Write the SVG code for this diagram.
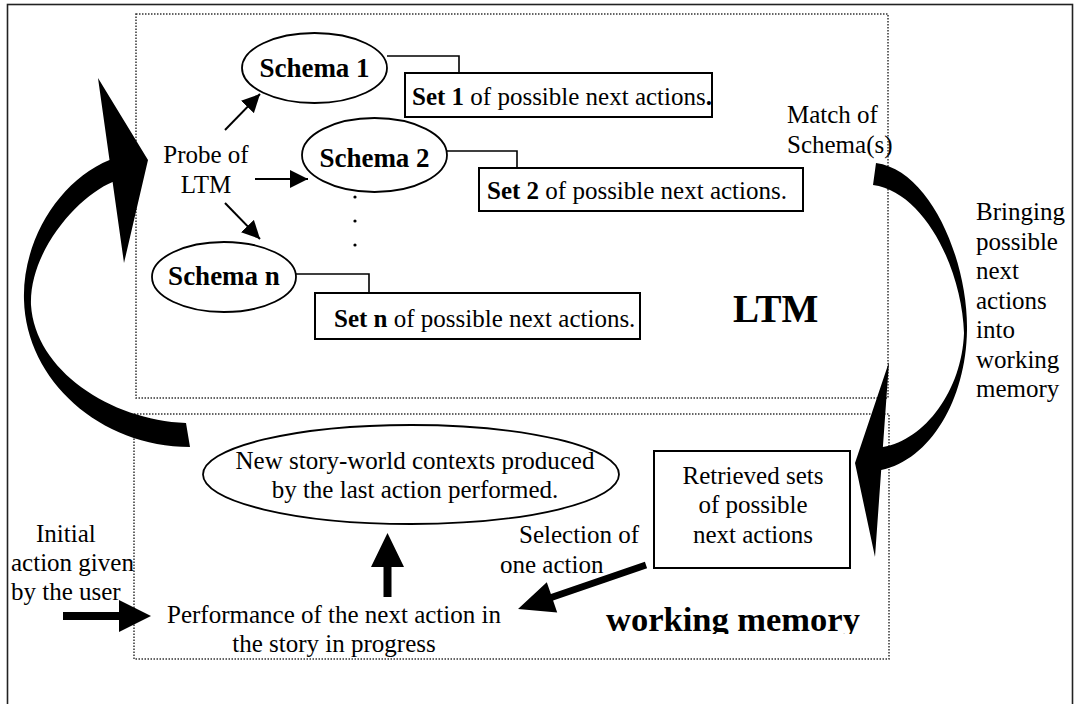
<svg xmlns="http://www.w3.org/2000/svg" width="1075" height="704" viewBox="0 0 1075 704">
<style>
text{font-family:"Liberation Serif","Times New Roman",serif;font-size:25px;fill:#000}
.b{font-weight:bold}
.sch{font-weight:bold;font-size:27px;text-anchor:middle}
.ell{fill:#fff;stroke:#000;stroke-width:1.8}
.box{fill:#fff;stroke:#000;stroke-width:2}
.dot{fill:none;stroke:#333;stroke-width:1.5;stroke-dasharray:1.5 1.5}
.ln{fill:none;stroke:#000;stroke-width:1.6}
.thin{fill:none;stroke:#000;stroke-width:2}
.blk{fill:#000;stroke:none}
</style>
<defs>
<marker id="ah" markerUnits="userSpaceOnUse" markerWidth="18" markerHeight="18" refX="18" refY="9" orient="auto">
<path d="M0,0 L18,9 L0,18 z" fill="#000"/>
</marker>
<clipPath id="wmclip"><rect x="590" y="590" width="290" height="44"/></clipPath>
</defs>
<rect width="1075" height="704" fill="#fff"/>
<rect x="7.5" y="4.5" width="1065" height="720" fill="none" stroke="#222" stroke-width="1.6"/>

<g id="ltm-region">
<rect class="dot" x="136" y="14" width="752" height="384"/>
<text class="b" x="733" y="322" style="font-size:39px">LTM</text>
</g>
<g id="wm-region">
<rect class="dot" x="134" y="414" width="755" height="245"/>
<text class="b" x="606" y="631" style="font-size:34.5px" clip-path="url(#wmclip)">working memory</text>
</g>

<g id="connectors">
<path class="blk" d="M186,423 C110,420 35,370 31,305 C29,250 80,195 112.6,182 L124,263 L148,160 L98,78 L109.5,160 C60,180 22,240 24,300 C26,380 100,447 190,447 Z"/>
<path class="blk" d="M876,163 C930,170 968,260 967,330 C966,400 930,460 881.2,470 L875,557 L855,463 L889,362 L882.9,447 C925,440 962,390 964,333 C962,270 925,192 873,185 Z"/>
<line class="thin" x1="225" y1="130" x2="260" y2="94" marker-end="url(#ah)"/>
<line class="thin" x1="255" y1="179" x2="308" y2="179" marker-end="url(#ah)"/>
<line class="thin" x1="225" y1="203" x2="260" y2="239" marker-end="url(#ah)"/>
<polyline class="ln" points="387,56 459,56 459,73"/>
<polyline class="ln" points="447,151 517,151 517,168"/>
<polyline class="ln" points="296,274 369,274 369,293"/>
<polygon class="blk" points="383.5,597 383.5,567 371,567 387.5,533 404,567 391.5,567 391.5,597"/>
<polygon class="blk" points="63,612 119,612 119,600 151,616 119,632 119,620 63,620"/>
<polygon class="blk" points="644.9,561.7 550.9,594 546.8,582.2 518,609 557.2,612.4 553.1,600.6 647.1,568.3"/>
</g>

<g id="probe">
<text x="206" y="163" text-anchor="middle">Probe of</text>
<text x="206" y="193" text-anchor="middle">LTM</text>
</g>
<g id="schema1">
<ellipse class="ell" cx="314.5" cy="68" rx="72.5" ry="35"/>
<text class="sch" x="314.5" y="77">Schema 1</text>
</g>
<g id="schema2">
<ellipse class="ell" cx="374.5" cy="155" rx="72.5" ry="37"/>
<text class="sch" x="374.5" y="167">Schema 2</text>
</g>
<g id="dots">
<circle cx="355" cy="197" r="1.6"/>
<circle cx="355" cy="221" r="1.6"/>
<circle cx="355" cy="245" r="1.6"/>
</g>
<g id="schema-n">
<ellipse class="ell" cx="224" cy="277" rx="72" ry="35"/>
<text class="sch" x="224" y="285">Schema n</text>
</g>
<g id="set1">
<rect class="box" x="405" y="73" width="307" height="44"/>
<text x="412" y="105"><tspan class="b">Set 1</tspan> of possible next actions<tspan class="b">.</tspan></text>
</g>
<g id="set2">
<rect class="box" x="479" y="168" width="324" height="43"/>
<text x="487" y="199"><tspan class="b">Set 2</tspan> of possible next actions.</text>
</g>
<g id="set-n">
<rect class="box" x="315" y="293" width="325" height="46"/>
<text x="334" y="327"><tspan class="b">Set n</tspan> of possible next actions.</text>
</g>
<g id="match">
<text x="787" y="123">Match of</text>
<text x="787" y="153">Schema(s)</text>
</g>
<g id="bringing">
<text x="976" y="220">Bringing</text>
<text x="976" y="249.5">possible</text>
<text x="976" y="279">next</text>
<text x="976" y="308.5">actions</text>
<text x="976" y="338">into</text>
<text x="976" y="367.5">working</text>
<text x="976" y="397">memory</text>
</g>
<g id="new-contexts">
<ellipse class="ell" cx="411" cy="474.5" rx="208" ry="49.5"/>
<text x="415" y="469" text-anchor="middle">New story-world contexts produced</text>
<text x="415" y="498" text-anchor="middle">by the last action performed.</text>
</g>
<g id="retrieved">
<rect class="box" x="654" y="451" width="196" height="117"/>
<text x="753" y="484" text-anchor="middle">Retrieved sets</text>
<text x="753" y="513" text-anchor="middle">of possible</text>
<text x="753" y="543" text-anchor="middle">next actions</text>
</g>
<g id="selection">
<text x="519" y="543">Selection of</text>
<text x="500" y="573">one action</text>
</g>
<g id="initial">
<text x="36" y="542">Initial</text>
<text x="11" y="571">action given</text>
<text x="11" y="600">by the user</text>
</g>
<g id="performance">
<text x="334" y="623" text-anchor="middle">Performance of the next action in</text>
<text x="334" y="652" text-anchor="middle">the story in progress</text>
</g>
</svg>
